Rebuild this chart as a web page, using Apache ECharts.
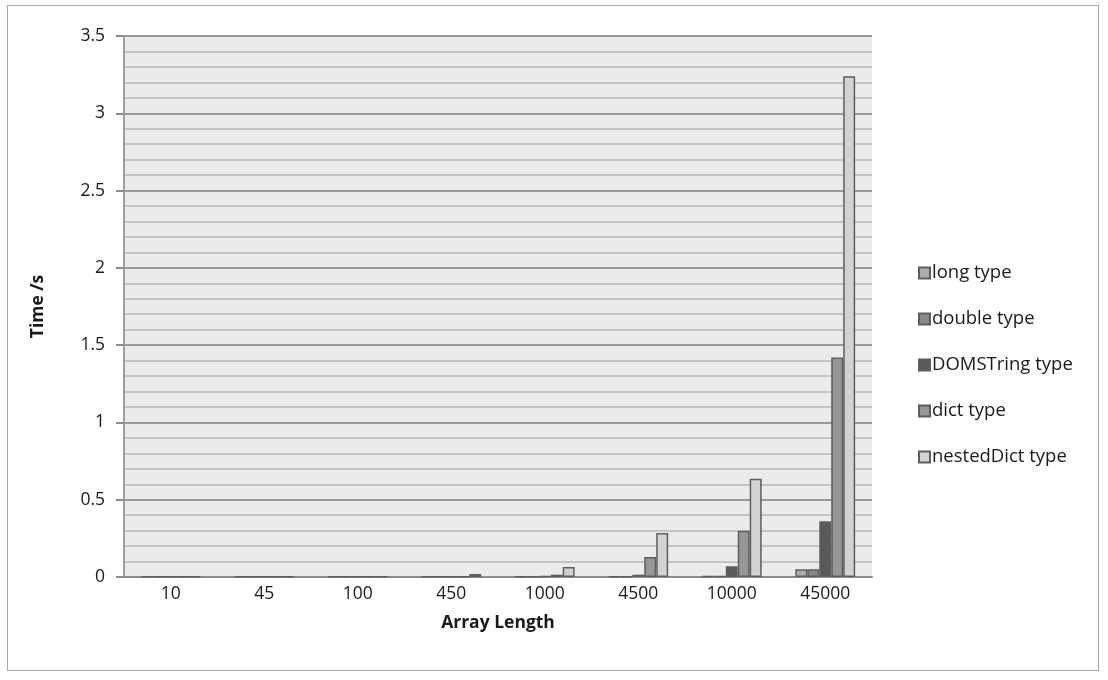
<!DOCTYPE html>
<html>
<head>
<meta charset="utf-8">
<script src="https://cdn.jsdelivr.net/npm/echarts@6/dist/echarts.min.js"></script>
<style>
  html, body { margin: 0; padding: 0; background: #fff; }
  #frame { position: absolute; left: 7px; top: 5px; width: 1092px; height: 666px; border: 1px solid #a6a6a6; box-sizing: border-box; }
  #chart { width: 1108px; height: 680px; }
</style>
</head>
<body>
<div id="frame"></div>
<div id="chart"></div>
<script>
// 数据
const categories = ['10', '45', '100', '450', '1000', '4500', '10000', '45000']
const longType = [0.003, 0.003, 0.003, 0.003, 0.004, 0.004, 0.005, 0.05]
const doubleType = [0.003, 0.003, 0.003, 0.003, 0.004, 0.004, 0.005, 0.05]
const domStringType = [0.003, 0.003, 0.003, 0.003, 0.005, 0.015, 0.07, 0.36]
const dictType = [0.003, 0.003, 0.003, 0.004, 0.015, 0.13, 0.30, 1.42]
const nestedDictType = [0.003, 0.003, 0.003, 0.02, 0.065, 0.285, 0.635, 3.24]
const yTicks = [0, 0.5, 1, 1.5, 2, 2.5, 3, 3.5]

const font = '"Open Sans", sans-serif'

function barSeries (name, data, color) {
  return {
    name: name,
    type: 'bar',
    data: data,
    barGap: 0,
    barCategoryGap: '36%',
    itemStyle: {
      color: color,
      borderColor: '#5e5e5e',
      borderWidth: 1.5
    }
  }
}

const chart = echarts.init(document.getElementById('chart'))
chart.setOption({
  animation: false,
  textStyle: { fontFamily: font },
  grid: {
    left: 124,
    right: 236,
    top: 36,
    bottom: 103,
    show: true,
    backgroundColor: '#ebebeb',
    borderWidth: 0
  },
  legend: {
    orient: 'vertical',
    left: 913,
    top: 257,
    itemWidth: 11,
    itemHeight: 11,
    itemGap: 24,
    icon: 'rect',
    textStyle: { fontSize: 18.5, lineHeight: 22, color: '#1a1a1a', padding: [0, 0, 0, -3] }
  },
  xAxis: {
    type: 'category',
    data: categories,
    name: 'Array Length',
    nameLocation: 'middle',
    nameGap: 37,
    nameTextStyle: { fontSize: 17.5, fontWeight: 'bold', color: '#1a1a1a' },
    axisLine: { lineStyle: { color: '#8c8c8c', width: 2 } },
    axisTick: { show: false },
    axisLabel: { fontSize: 17.5, color: '#1a1a1a', margin: 8 }
  },
  yAxis: {
    type: 'value',
    min: yTicks[0],
    max: yTicks[yTicks.length - 1],
    interval: 0.5,
    name: 'Time /s',
    nameLocation: 'middle',
    nameGap: 77,
    nameTextStyle: { fontSize: 17.5, fontWeight: 'bold', color: '#1a1a1a' },
    axisLine: { show: true, lineStyle: { color: '#a0a0a0', width: 2 } },
    axisTick: { show: true, length: 8, inside: false, lineStyle: { color: '#8c8c8c', width: 2 } },
    axisLabel: { fontSize: 17.5, color: '#1a1a1a', margin: 19 },
    splitLine: { lineStyle: { color: '#999999', width: 2 } },
    minorTick: { show: false, splitNumber: 5 },
    minorSplitLine: { show: true, lineStyle: { color: '#c4c4c4', width: 2 } }
  },
  series: [
    barSeries('long type', longType, '#adadad'),
    barSeries('double type', doubleType, '#8a8a8a'),
    barSeries('DOMSTring type', domStringType, '#5a5a5a'),
    barSeries('dict type', dictType, '#979797'),
    barSeries('nestedDict type', nestedDictType, '#d2d2d2')
  ]
})
</script>
</body>
</html>
